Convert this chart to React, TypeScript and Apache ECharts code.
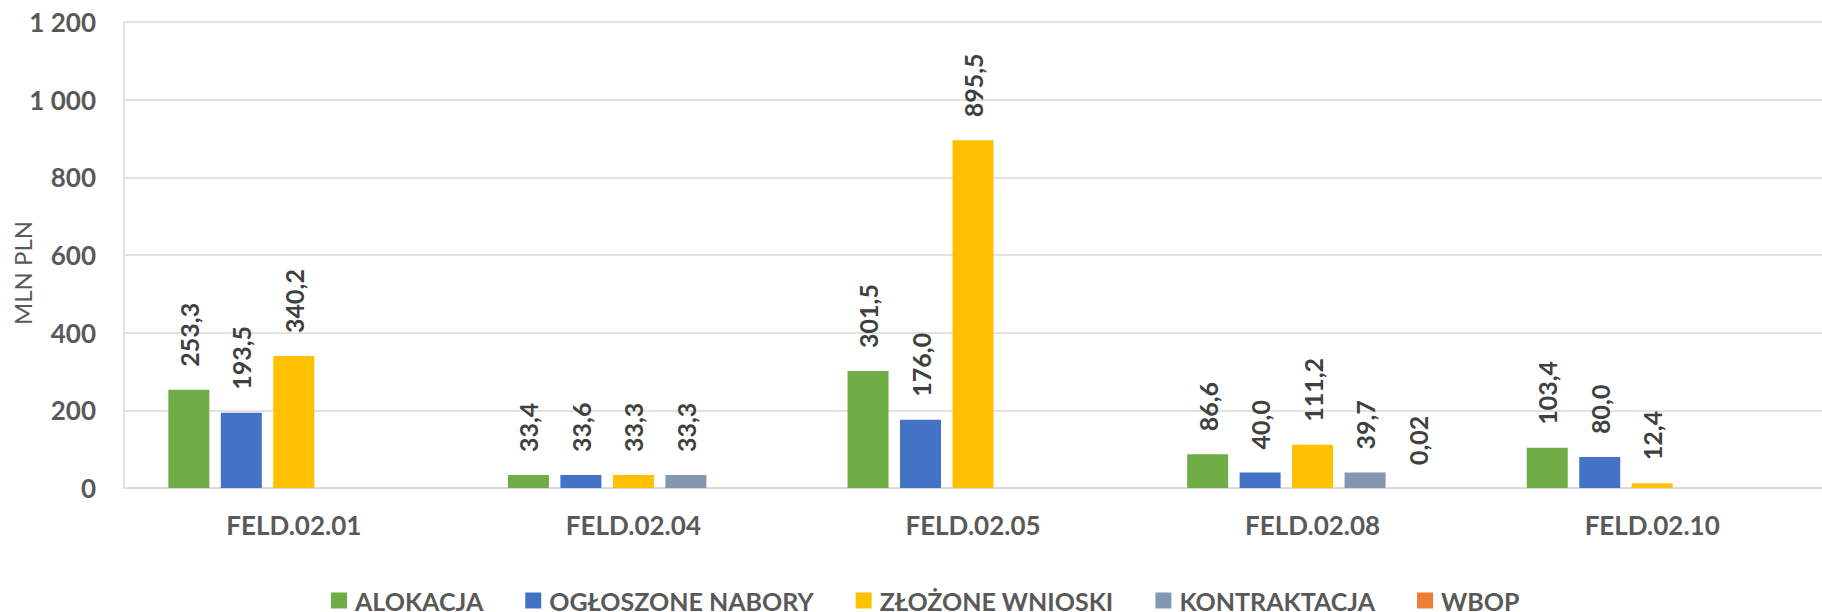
import React, { useEffect, useRef } from "react";
import * as echarts from "echarts";

const categories = ["FELD.02.01", "FELD.02.04", "FELD.02.05", "FELD.02.08", "FELD.02.10"];
const seriesNames = ["ALOKACJA", "OGŁOSZONE NABORY", "ZŁOŻONE WNIOSKI", "KONTRAKTACJA", "WBOP"];
const alokacja = [253.3, 33.4, 301.5, 86.6, 103.4];
const ogloszone = [193.5, 33.6, 176.0, 40.0, 80.0];
const zlozone = [340.2, 33.3, 895.5, 111.2, 12.4];
const kontraktacja = [null, 33.3, null, 39.7, null];
const wbop = [null, null, null, 0.02, null];
const colors = ["#70AD47", "#4472C4", "#FFC000", "#8497B0", "#ED7D31"];
const yTicks = { min: 0, max: 1200, interval: 200 };

const FONT = "Lato, 'Noto Sans', sans-serif";

function fmt(v: number): string {
  const d = Math.abs(v) < 1 ? 2 : 1;
  return v.toFixed(d).replace(".", ",");
}

export default function App() {
  const ref = useRef<HTMLDivElement>(null);
  useEffect(() => {
    if (!ref.current) return;
    const chart = echarts.init(ref.current, undefined, { renderer: "svg" });
    const data = [alokacja, ogloszone, zlozone, kontraktacja, wbop];
    chart.setOption({
      animation: false,
      backgroundColor: "#ffffff",
      color: colors,
      grid: { left: 124, right: 0, top: 22, bottom: 124, containLabel: false },
      legend: {
        left: 326,
        top: 583,
        icon: "rect",
        itemWidth: 16,
        itemHeight: 16,
        itemGap: 42,
        data: seriesNames,
        textStyle: {
          fontFamily: FONT,
          fontWeight: "bold",
          fontSize: 25,
          color: "#595959",
          padding: [0, 0, 0, 3],
        },
      },
      graphic: [
        {
          type: "text",
          x: 22,
          y: 273,
          rotation: Math.PI / 2,
          style: {
            text: "MLN PLN",
            align: "center",
            verticalAlign: "middle",
            fontFamily: FONT,
            fontSize: 24,
            fill: "#595959",
          },
        },
      ],
      xAxis: {
        type: "category",
        data: categories,
        axisLine: { show: true, lineStyle: { color: "#d9d9d9", width: 1.5 } },
        axisTick: { show: false },
        axisLabel: {
          margin: 24,
          fontFamily: FONT,
          fontWeight: "bold",
          fontSize: 26,
          color: "#595959",
        },
      },
      yAxis: {
        type: "value",
        min: yTicks.min,
        max: yTicks.max,
        interval: yTicks.interval,
        axisLine: { show: true, lineStyle: { color: "#d9d9d9", width: 1.5 } },
        axisTick: { show: false },
        splitLine: { show: true, lineStyle: { color: "#d9d9d9", width: 1.5 } },
        axisLabel: {
          margin: 28,
          fontFamily: FONT,
          fontWeight: "bold",
          fontSize: 26,
          color: "#595959",
          formatter: (v: number) => String(v).replace(/\B(?=(\d{3})+(?!\d))/g, " "),
        },
      },
      series: seriesNames.map((name, i) => ({
        name,
        type: "bar",
        data: data[i],
        barWidth: 41,
        barGap: "28%",
        itemStyle: { color: colors[i] },
        label: {
          show: true,
          position: "top",
          rotate: 90,
          align: "left",
          verticalAlign: "middle",
          distance: 23,
          fontFamily: FONT,
          fontWeight: "bold",
          fontSize: 25,
          color: "#404040",
          formatter: (p: any) => (p.value == null ? "" : fmt(p.value)),
        },
      })),
    });
    return () => chart.dispose();
  }, []);
  return (
    <div
      ref={ref}
      style={{ position: "fixed", left: 0, top: 0, width: 1822, height: 612, background: "#fff" }}
    />
  );
}
